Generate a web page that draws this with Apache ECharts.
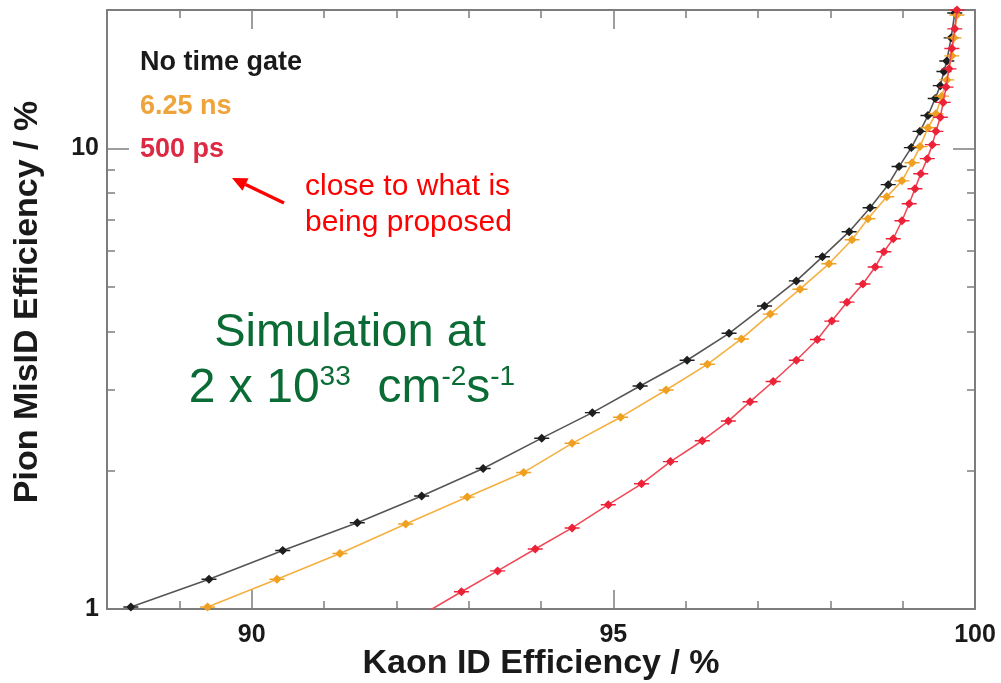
<!DOCTYPE html>
<html>
<head>
<meta charset="utf-8">
<script src="https://cdn.jsdelivr.net/npm/echarts@6/dist/echarts.min.js"></script>
<style>
html, body { margin: 0; padding: 0; background: #ffffff; }
#chart { width: 1001px; height: 683px; }
</style>
</head>
<body>
<div id="chart"></div>
<script>
// Pion mis-ID efficiency vs kaon ID efficiency for three time-gate settings

// No time gate
const noGateKaon = [88.33, 89.41, 90.43, 91.46, 92.35, 93.20, 94.01, 94.71, 95.37, 96.02, 96.60, 97.09, 97.53, 97.89, 98.26, 98.55, 98.80, 98.95, 99.12, 99.24, 99.35, 99.45, 99.52, 99.57, 99.61, 99.67, 99.72];
const noGatePion = [1.01, 1.16, 1.34, 1.54, 1.76, 2.02, 2.35, 2.67, 3.05, 3.47, 3.97, 4.55, 5.16, 5.82, 6.60, 7.44, 8.35, 9.14, 10.05, 10.9, 11.8, 12.85, 13.7, 14.7, 15.5, 17.4, 19.7];

// 6.25 ns gate
const gate625Kaon = [89.39, 90.35, 91.22, 92.13, 92.98, 93.76, 94.43, 95.10, 95.73, 96.30, 96.77, 97.17, 97.58, 97.98, 98.30, 98.52, 98.78, 98.99, 99.13, 99.24, 99.35, 99.46, 99.54, 99.61, 99.68, 99.71, 99.75];
const gate625Pion = [1.01, 1.16, 1.32, 1.53, 1.75, 1.98, 2.29, 2.61, 2.99, 3.40, 3.86, 4.37, 4.95, 5.62, 6.34, 7.04, 7.86, 8.51, 9.32, 10.1, 11.1, 11.9, 13.0, 14.1, 15.9, 17.4, 19.5];

// 500 ps gate
const gate500Kaon = [92.35, 92.90, 93.40, 93.92, 94.43, 94.93, 95.39, 95.79, 96.23, 96.59, 96.89, 97.21, 97.53, 97.82, 98.02, 98.23, 98.45, 98.62, 98.74, 98.87, 98.99, 99.09, 99.17, 99.25, 99.34, 99.41, 99.46, 99.52, 99.56, 99.60, 99.64, 99.68, 99.72, 99.75];
const gate500Pion = [0.97, 1.09, 1.21, 1.35, 1.50, 1.685, 1.87, 2.09, 2.32, 2.56, 2.82, 3.12, 3.47, 3.85, 4.22, 4.64, 5.08, 5.53, 5.97, 6.37, 6.97, 7.59, 8.18, 8.82, 9.51, 10.2, 10.9, 11.7, 12.6, 13.6, 14.9, 16.5, 18.2, 20.0];

// Axis ticks and labels
const xRange = [88, 100];
const xMajorTicks = [90, 95, 100];
const yRange = [1, 20];
const yMajorTicks = [1, 10];
const yMinorTicks = [2, 3, 4, 5, 6, 7, 8, 9];

const seriesNames = ['No time gate', '6.25 ns', '500 ps'];
const seriesColors = ['#1e1e1e', '#f0a020', '#ec2238'];
const lineColors = ['#555555', '#f4b040', '#f04a58'];

const AXIS_GREY = '#7d7d7d';
const FONT = 'Arial, "Liberation Sans", Helvetica, sans-serif';

const chart = echarts.init(document.getElementById('chart'), null, { renderer: 'canvas' });

function pairs(xs, ys) { return xs.map((x, i) => [x, ys[i]]); }

// marker: filled diamond with short horizontal error whiskers
const markerPath = 'path://M0,4.2 L16,4.2 L16,5.8 L0,5.8 Z M8,0 L13,5 L8,10 L3,5 Z';

function xAxisDef(position, major, withLine, withLabels) {
  return {
    type: 'value', position, min: xRange[0], max: xRange[1], interval: 1,
    axisLine: { show: withLine, lineStyle: { color: AXIS_GREY, width: 2 } },
    axisTick: major
      ? { show: true, inside: true, length: 19, customValues: xMajorTicks, lineStyle: { color: AXIS_GREY, width: 1.5 } }
      : { show: true, inside: true, length: 8, lineStyle: { color: AXIS_GREY, width: 1.5 } },
    axisLabel: withLabels
      ? { show: true, customValues: xMajorTicks, margin: 14, color: '#1a1a1a', fontSize: 25, fontWeight: 'bold', fontFamily: FONT }
      : { show: false },
    splitLine: { show: false }
  };
}

function yAxisDef(position, major, withLine, withLabels) {
  return {
    type: 'log', logBase: 10, position, min: yRange[0], max: yRange[1],
    axisLine: { show: withLine, lineStyle: { color: AXIS_GREY, width: 2 } },
    axisTick: major
      ? { show: true, inside: true, length: 22, customValues: yMajorTicks, lineStyle: { color: AXIS_GREY, width: 1.5 } }
      : { show: true, inside: true, length: 8, customValues: yMinorTicks, lineStyle: { color: AXIS_GREY, width: 1.5 } },
    axisLabel: withLabels
      ? { show: true, customValues: yMajorTicks, margin: 8, color: '#1a1a1a', fontSize: 25, fontWeight: 'bold', fontFamily: FONT }
      : { show: false },
    splitLine: { show: false },
    minorTick: { show: false }
  };
}

const seriesData = [
  pairs(noGateKaon, noGatePion),
  pairs(gate625Kaon, gate625Pion),
  pairs(gate500Kaon, gate500Pion)
];

// annotation arrow geometry
const arrowTail = [284, 203], arrowTip = [232, 178];
const adx = arrowTip[0] - arrowTail[0], ady = arrowTip[1] - arrowTail[1];
const alen = Math.hypot(adx, ady), ux = adx / alen, uy = ady / alen;
const headLen = 15, headHalf = 7;
const baseC = [arrowTip[0] - ux * headLen, arrowTip[1] - uy * headLen];
const headPts = [arrowTip, [baseC[0] - uy * headHalf, baseC[1] + ux * headHalf], [baseC[0] + uy * headHalf, baseC[1] - ux * headHalf]];

const option = {
  backgroundColor: '#ffffff',
  animation: false,
  grid: { left: 107, right: 26, top: 10, bottom: 74, containLabel: false },
  xAxis: [
    xAxisDef('bottom', false, true, true),
    xAxisDef('bottom', true, false, false),
    xAxisDef('top', false, true, false),
    xAxisDef('top', true, false, false)
  ],
  yAxis: [
    yAxisDef('left', false, true, true),
    yAxisDef('left', true, false, false),
    yAxisDef('right', false, true, false),
    yAxisDef('right', true, false, false)
  ],
  series: seriesData.map((d, i) => ({
    name: seriesNames[i],
    type: 'line',
    data: d,
    xAxisIndex: 0,
    yAxisIndex: 0,
    clip: true,
    symbol: markerPath,
    symbolSize: [15, 9],
    symbolKeepAspect: false,
    showAllSymbol: true,
    itemStyle: { color: seriesColors[i] },
    lineStyle: { color: lineColors[i], width: 1.6 },
    z: 3 + i
  })),
  graphic: [
    // series key
    { type: 'text', left: 140, top: 49, style: { text: seriesNames[0], fill: '#1a1a1a', font: 'bold 27px ' + FONT } },
    { type: 'text', left: 140, top: 93, style: { text: seriesNames[1], fill: '#eea43a', font: 'bold 27px ' + FONT } },
    { type: 'text', left: 140, top: 136, style: { text: seriesNames[2], fill: '#dd2a44', font: 'bold 27px ' + FONT } },
    // annotation
    { type: 'text', x: 305, y: 187, style: { text: 'close to what is', fill: '#ff0000', font: '30px ' + FONT, verticalAlign: 'middle', align: 'left' } },
    { type: 'text', x: 305, y: 223, style: { text: 'being proposed', fill: '#ff0000', font: '30px ' + FONT, verticalAlign: 'middle', align: 'left' } },
    { type: 'line', shape: { x1: arrowTail[0], y1: arrowTail[1], x2: baseC[0], y2: baseC[1] }, style: { stroke: '#ff0000', lineWidth: 3.5 } },
    { type: 'polygon', shape: { points: headPts }, style: { fill: '#ff0000' } },
    // simulation conditions
    { type: 'text', x: 350, y: 333, style: { text: 'Simulation at', fill: '#0b6b35', font: '47px ' + FONT, align: 'center', verticalAlign: 'middle' } },
    { type: 'text', x: 352, y: 388, style: {
        text: '{n|2 x 10}{s|33}{n|  cm}{s|-2}{n|s}{s|-1}',
        align: 'center', verticalAlign: 'middle',
        rich: {
          n: { fontSize: 48, fontFamily: FONT, fill: '#0b6b35', color: '#0b6b35', lineHeight: 50, verticalAlign: 'bottom' },
          s: { fontSize: 28, fontFamily: FONT, fill: '#0b6b35', color: '#0b6b35', lineHeight: 50, verticalAlign: 'top' }
        }
      } },
    // axis titles
    { type: 'text', x: 541, y: 664, style: { text: 'Kaon ID Efficiency / %', fill: '#1a1a1a', font: 'bold 34px ' + FONT, align: 'center', verticalAlign: 'middle' } },
    { type: 'text', x: 28, y: 302, rotation: Math.PI / 2, style: { text: 'Pion MisID Efficiency / %', fill: '#1a1a1a', font: 'bold 34px ' + FONT, align: 'center', verticalAlign: 'middle' } }
  ]
};

chart.setOption(option);
</script>
</body>
</html>
